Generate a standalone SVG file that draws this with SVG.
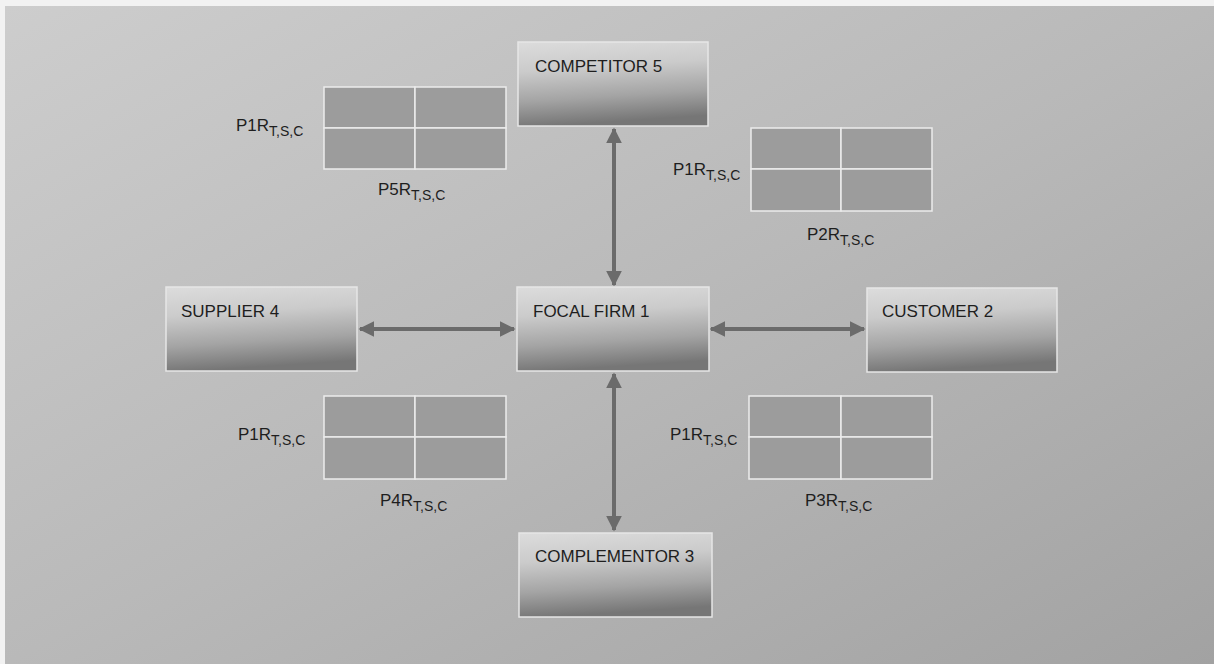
<svg xmlns="http://www.w3.org/2000/svg" width="1214" height="664" viewBox="0 0 1214 664">
  <defs>
    <linearGradient id="bg" x1="0" y1="0" x2="1" y2="1">
      <stop offset="0" stop-color="#cdcdcd"/>
      <stop offset="0.5" stop-color="#b9b9b9"/>
      <stop offset="1" stop-color="#a2a2a2"/>
    </linearGradient>
    <linearGradient id="boxg" x1="0" y1="0" x2="0.15" y2="1">
      <stop offset="0" stop-color="#dcdcdc"/>
      <stop offset="0.35" stop-color="#cbcbcb"/>
      <stop offset="0.7" stop-color="#a4a4a4"/>
      <stop offset="1" stop-color="#767676"/>
    </linearGradient>
    <filter id="grain" x="0" y="0" width="100%" height="100%">
      <feTurbulence type="fractalNoise" baseFrequency="0.9" numOctaves="2" seed="3" result="n"/>
      <feColorMatrix in="n" type="matrix" values="0 0 0 0 0.5  0 0 0 0 0.5  0 0 0 0 0.5  0 0 0 0.35 0"/>
    </filter>
    <marker id="ah" viewBox="0 0 10 10" refX="9" refY="5" markerWidth="4" markerHeight="4" orient="auto-start-reverse" markerUnits="strokeWidth">
      <path d="M0,0 L10,5 L0,10 z" fill="#6b6b6b"/>
    </marker>
  </defs>
  <style>
    .box { fill: url(#boxg); stroke: #e6e6e6; stroke-width: 1.5; }
    .cell { fill: #9c9c9c; stroke: #ececec; stroke-width: 1.5; }
    .title { font-family: "Liberation Sans", Arial, sans-serif; font-size: 17px; fill: #1e1e1e; }
    .lbl { font-family: "Liberation Sans", Arial, sans-serif; font-size: 17px; fill: #1e1e1e; }
    .sub { font-size: 14px; }
    .conn { stroke: #6b6b6b; stroke-width: 4; fill: none; marker-start: url(#ah); marker-end: url(#ah); }
  </style>
  <rect x="0" y="0" width="1214" height="664" fill="#f2f2f2"/>
  <rect x="5" y="6" width="1209" height="658" fill="url(#bg)"/>

  <g id="connectors">
    <line class="conn" x1="614" y1="129" x2="614" y2="285"/>
    <line class="conn" x1="614" y1="374" x2="614" y2="530"/>
    <line class="conn" x1="360" y1="329" x2="514" y2="329"/>
    <line class="conn" x1="711" y1="329" x2="864" y2="329"/>
  </g>

  <g id="competitor5">
    <rect class="box" x="518" y="42" width="190" height="84"/>
    <text class="title" x="535" y="72">COMPETITOR 5</text>
  </g>
  <g id="focal1">
    <rect class="box" x="517" y="287" width="192" height="84"/>
    <text class="title" x="533" y="317">FOCAL FIRM 1</text>
  </g>
  <g id="supplier4">
    <rect class="box" x="166" y="287" width="191" height="84"/>
    <text class="title" x="181" y="317">SUPPLIER 4</text>
  </g>
  <g id="customer2">
    <rect class="box" x="867" y="288" width="190" height="84"/>
    <text class="title" x="882" y="317">CUSTOMER 2</text>
  </g>
  <g id="complementor3">
    <rect class="box" x="519" y="533" width="193" height="84"/>
    <text class="title" x="535" y="562">COMPLEMENTOR 3</text>
  </g>

  <g id="matrix5">
    <rect class="cell" x="324" y="87" width="91" height="41"/>
    <rect class="cell" x="415" y="87" width="91" height="41"/>
    <rect class="cell" x="324" y="128" width="91" height="41"/>
    <rect class="cell" x="415" y="128" width="91" height="41"/>
    <text class="lbl" x="236" y="131">P1R<tspan class="sub" dy="5">T,S,C</tspan></text>
    <text class="lbl" x="378" y="195">P5R<tspan class="sub" dy="5">T,S,C</tspan></text>
  </g>
  <g id="matrix2">
    <rect class="cell" x="751" y="128" width="90" height="41"/>
    <rect class="cell" x="841" y="128" width="91" height="41"/>
    <rect class="cell" x="751" y="169" width="90" height="42"/>
    <rect class="cell" x="841" y="169" width="91" height="42"/>
    <text class="lbl" x="673" y="175">P1R<tspan class="sub" dy="5">T,S,C</tspan></text>
    <text class="lbl" x="807" y="240">P2R<tspan class="sub" dy="5">T,S,C</tspan></text>
  </g>
  <g id="matrix4">
    <rect class="cell" x="324" y="396" width="91" height="41"/>
    <rect class="cell" x="415" y="396" width="91" height="41"/>
    <rect class="cell" x="324" y="437" width="91" height="42"/>
    <rect class="cell" x="415" y="437" width="91" height="42"/>
    <text class="lbl" x="238" y="440">P1R<tspan class="sub" dy="5">T,S,C</tspan></text>
    <text class="lbl" x="380" y="506">P4R<tspan class="sub" dy="5">T,S,C</tspan></text>
  </g>
  <g id="matrix3">
    <rect class="cell" x="749" y="396" width="92" height="41"/>
    <rect class="cell" x="841" y="396" width="91" height="41"/>
    <rect class="cell" x="749" y="437" width="92" height="42"/>
    <rect class="cell" x="841" y="437" width="91" height="42"/>
    <text class="lbl" x="670" y="440">P1R<tspan class="sub" dy="5">T,S,C</tspan></text>
    <text class="lbl" x="805" y="506">P3R<tspan class="sub" dy="5">T,S,C</tspan></text>
  </g>
</svg>
